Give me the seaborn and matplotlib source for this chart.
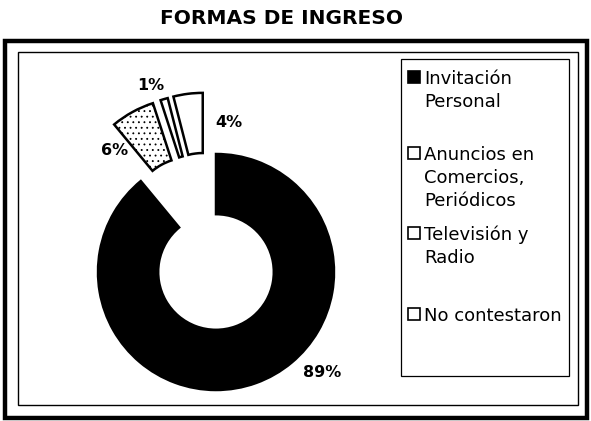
import matplotlib
matplotlib.use("Agg")
import numpy as np
import matplotlib.pyplot as plt
from matplotlib.patches import Rectangle
import seaborn as sns

# Data
categories = ["Invitación\nPersonal", "Anuncios en\nComercios,\nPeriódicos", "Televisión y\nRadio", "No contestaron"]
values = [89, 6, 1, 4]
pct_labels = ["89%", "6%", "1%", "4%"]

sns.set_theme(style="white")
plt.rcParams["font.family"] = ["DejaVu Sans"]
plt.rcParams["hatch.linewidth"] = 0.6

W, H = 591, 421
fig = plt.figure(figsize=(W / 100, H / 100), dpi=100)
fig.patch.set_facecolor("white")


def fx(px):
    return px / W


def fy(py):
    return 1 - py / H


# Outer heavy frame and inner thin frame
fig.patches.append(Rectangle((fx(5), fy(418)), fx(582), 377 / H, transform=fig.transFigure,
                             fill=False, edgecolor="black", linewidth=3.2))
fig.patches.append(Rectangle((fx(18), fy(405)), fx(560), 353 / H, transform=fig.transFigure,
                             fill=False, edgecolor="black", linewidth=1.0))

fig.text(fx(281), fy(19), "FORMAS DE INGRESO", ha="center", va="center",
         fontsize=14.5, fontweight="bold", color="black")

# Donut axes: center at (216, 272) px, radius 1 -> 118 px
scale = 118.0
cx, cy = 216.0, 272.0
x0, x1 = -1.5, 1.45
y0, y1 = -1.2, 1.85
left_px = cx + x0 * scale
bottom_px = (H - cy) + y0 * scale
ax = fig.add_axes([left_px / W, bottom_px / H, (x1 - x0) * scale / W, (y1 - y0) * scale / H])
ax.axis("off")

colors = ["black", "white", "white", "white"]
hatches = [None, "...", None, None]
wedges, _ = ax.pie(values, startangle=90, counterclock=False, colors=colors, radius=1.0,
                   wedgeprops=dict(width=0.51, edgecolor="black", linewidth=1.8))
for w, h in zip(wedges, hatches):
    if h:
        w.set_hatch(h)

# Pull the minor slices out together, fanning slightly from the group's middle
pulled = wedges[1:]
g_lo = min(w.theta1 for w in pulled)
g_hi = max(w.theta2 for w in pulled)
g_mid = 0.5 * (g_lo + g_hi)
for w in pulled:
    mid = 0.5 * (w.theta1 + w.theta2)
    ang = np.deg2rad(g_mid + 0.6 * (mid - g_mid))
    w.set_center((0.53 * np.cos(ang), 0.53 * np.sin(ang)))

ax.set_xlim(x0, x1)
ax.set_ylim(y0, y1)

# Percentage labels
label_pos = [(0.90, -0.85), (-0.86, 1.03), (-0.55, 1.58), (0.11, 1.27)]
for (lx, ly), txt in zip(label_pos, pct_labels):
    ax.text(lx, ly, txt, ha="center", va="center", fontsize=11.5, fontweight="bold", color="black")

# Legend box
fig.patches.append(Rectangle((fx(401), fy(376)), fx(168), 317 / H, transform=fig.transFigure,
                             fill=False, edgecolor="black", linewidth=0.9))
first_baselines = [84, 160, 240, 321]
line_pitch = 23
for base, label, col in zip(first_baselines, categories, colors):
    fig.patches.append(Rectangle((fx(408), fy(base - 1)), fx(12), 12 / H, transform=fig.transFigure,
                                 facecolor=col, edgecolor="black", linewidth=1.2))
    for i, line in enumerate(label.split("\n")):
        fig.text(fx(424), fy(base + i * line_pitch), line, ha="left", va="baseline",
                 fontsize=13, color="black")

fig.savefig("out.png", dpi=100, facecolor="white")
